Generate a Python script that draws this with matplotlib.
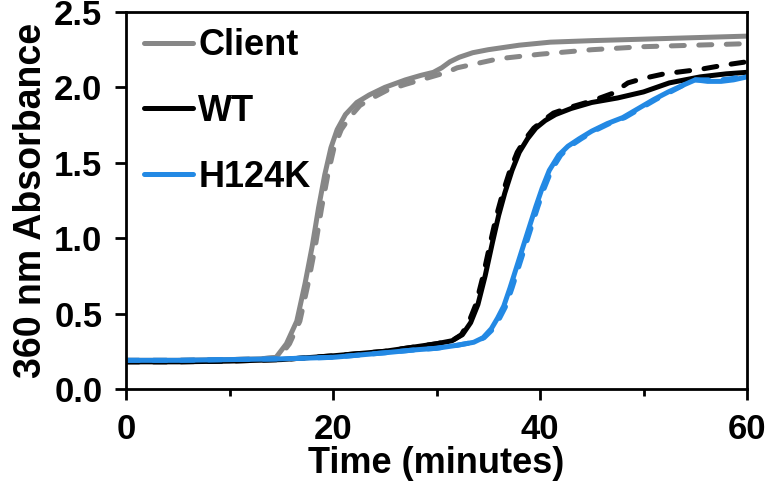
import matplotlib
matplotlib.use("Agg")
import matplotlib.pyplot as plt

plt.rcParams['font.family'] = ['Liberation Sans', 'DejaVu Sans']
plt.rcParams['font.weight'] = 'bold'

# ---- data ----
client_t = [0, 5, 10, 13, 14.5, 15.5, 16.5, 17.3, 18.0, 18.6, 19.2, 19.8, 20.4, 21.2, 22.3,
            23.5, 25, 27, 28.5, 29.7, 30.5, 31.3, 32.2, 33.5, 35, 38, 41, 45, 50, 55, 60]
client_a = [0.19, 0.19, 0.195, 0.2, 0.21, 0.3, 0.45, 0.7, 0.95, 1.2, 1.42, 1.6, 1.72, 1.82, 1.9,
            1.95, 2.0, 2.05, 2.08, 2.1, 2.13, 2.17, 2.2, 2.23, 2.25, 2.28, 2.3, 2.31, 2.32, 2.33, 2.34]

client_d_t = [0, 5, 10, 13, 14.8, 15.8, 16.8, 17.6, 18.3, 18.9, 19.5, 20.1, 20.8, 21.6, 22.6,
              23.8, 25.2, 27, 28.5, 30, 31, 32, 34, 36, 40, 45, 50, 55, 60]
client_d_a = [0.19, 0.19, 0.195, 0.2, 0.21, 0.3, 0.45, 0.7, 0.95, 1.2, 1.42, 1.6, 1.72, 1.8, 1.88,
              1.93, 1.98, 2.02, 2.05, 2.08, 2.1, 2.13, 2.16, 2.19, 2.22, 2.25, 2.27, 2.28, 2.29]

wt_t = [0, 5, 10, 15, 20, 25, 28, 30, 31.5, 32.5, 33.3, 34.0, 34.7, 35.4, 36.0, 36.6, 37.3,
        38.0, 38.8, 39.6, 40.5, 41.5, 43, 45, 47.5, 50, 52.5, 55.5, 58, 60]
wt_a = [0.18, 0.18, 0.185, 0.195, 0.22, 0.25, 0.28, 0.3, 0.32, 0.36, 0.44, 0.56, 0.75, 0.97,
        1.15, 1.3, 1.45, 1.57, 1.66, 1.73, 1.78, 1.82, 1.86, 1.9, 1.93, 1.97, 2.03, 2.07, 2.09, 2.1]

wt_d_t = [0, 5, 10, 15, 20, 25, 28, 30, 31.5, 32.4, 33.1, 33.8, 34.5, 35.2, 35.8, 36.4, 37.1,
          37.8, 38.6, 39.4, 40.3, 41.3, 43, 45, 47, 48.5, 50, 52, 55.5, 58, 60]
wt_d_a = [0.18, 0.18, 0.185, 0.195, 0.22, 0.25, 0.28, 0.3, 0.32, 0.36, 0.44, 0.56, 0.75, 0.97,
          1.15, 1.3, 1.45, 1.57, 1.66, 1.73, 1.78, 1.83, 1.87, 1.91, 1.96, 2.03, 2.06, 2.09,
          2.12, 2.15, 2.17]

h124k_t = [0, 5, 10, 15, 20, 25, 28, 30, 32, 33.6, 34.5, 35.3, 35.9, 36.5, 37.1, 37.7, 38.3,
           38.9, 39.6, 40.2, 40.9, 41.8, 42.7, 43.8, 45, 46.5, 48, 49.5, 51, 52.4, 54, 55,
           56.2, 57.5, 58.7, 60]
h124k_a = [0.19, 0.19, 0.195, 0.2, 0.21, 0.24, 0.26, 0.27, 0.29, 0.31, 0.34, 0.4, 0.47, 0.55,
           0.67, 0.8, 0.93, 1.06, 1.21, 1.33, 1.45, 1.55, 1.61, 1.66, 1.71, 1.76, 1.8, 1.86,
           1.92, 1.97, 2.02, 2.05, 2.04, 2.04, 2.05, 2.07]

h124k_d_t = [0, 5, 10, 15, 20, 25, 28, 30, 32, 33.6, 34.6, 35.5, 36.1, 36.7, 37.3, 37.9, 38.5,
             39.1, 39.8, 40.4, 41.1, 42.0, 42.9, 44.0, 45.2, 46.7, 48.2, 49.7, 51.2, 52.6, 54,
             55, 56.2, 57.5, 58.7, 60]
h124k_d_a = [0.19, 0.19, 0.195, 0.2, 0.21, 0.24, 0.26, 0.27, 0.29, 0.31, 0.34, 0.4, 0.47, 0.55,
             0.67, 0.8, 0.93, 1.06, 1.21, 1.33, 1.45, 1.55, 1.61, 1.66, 1.71, 1.76, 1.8, 1.86,
             1.92, 1.97, 2.02, 2.05, 2.05, 2.05, 2.06, 2.08]

labels = ["Client", "WT", "H124K"]
x_ticks = [0, 20, 40, 60]
x_minor = [10, 30, 50]
y_ticks = [0.0, 0.5, 1.0, 1.5, 2.0, 2.5]

# ---- style ----
c_gray = "#878787"
c_black = "#000000"
c_blue = "#2389e4"
lw = 3.6
dash = (2.6, 2.9)

fig = plt.figure(figsize=(7.67, 4.90), dpi=100)
ax = fig.add_axes([126 / 767, 101 / 490, 621 / 767, 377 / 490])

ax.plot(client_t, client_a, color=c_gray, lw=lw, solid_capstyle='round', label=labels[0])
ax.plot(client_d_t, client_d_a, color=c_gray, lw=lw, dashes=dash, dash_capstyle='round')
ax.plot(wt_t, wt_a, color=c_black, lw=lw, solid_capstyle='round', label=labels[1])
ax.plot(wt_d_t, wt_d_a, color=c_black, lw=lw, dashes=dash, dash_capstyle='round')
ax.plot(h124k_t, h124k_a, color=c_blue, lw=lw, solid_capstyle='round', label=labels[2])
ax.plot(h124k_d_t, h124k_d_a, color=c_blue, lw=lw, dashes=dash, dash_capstyle='round')

ax.set_xlim(0, 60)
ax.set_ylim(0, 2.5)
ax.set_xticks(x_ticks)
ax.set_xticks(x_minor, minor=True)
ax.set_yticks(y_ticks)
ax.set_yticklabels([f"{v:.1f}" for v in y_ticks])

for s in ax.spines.values():
    s.set_linewidth(2.0)
ax.tick_params(axis='both', which='major', direction='out', length=8, width=2.0,
               labelsize=25)
ax.tick_params(axis='y', which='major', pad=9)
ax.tick_params(axis='x', which='major', pad=9)
ax.tick_params(axis='x', which='minor', direction='out', length=5, width=2.0)
ax.tick_params(axis='y', which='minor', left=False)

ax.set_xlabel("Time (minutes)", fontsize=26, fontweight='bold', labelpad=0)
ax.set_ylabel("360 nm Absorbance", fontsize=27, fontweight='bold', labelpad=4)

leg = ax.legend(loc='upper left', frameon=False, fontsize=26, handlelength=1.35,
                handletextpad=0.15, labelspacing=0.85, borderaxespad=0.0,
                bbox_to_anchor=(0.006, 0.995))
for h in leg.get_lines():
    h.set_linewidth(lw)
    h.set_solid_capstyle('round')

fig.savefig("out.png", dpi=100)
